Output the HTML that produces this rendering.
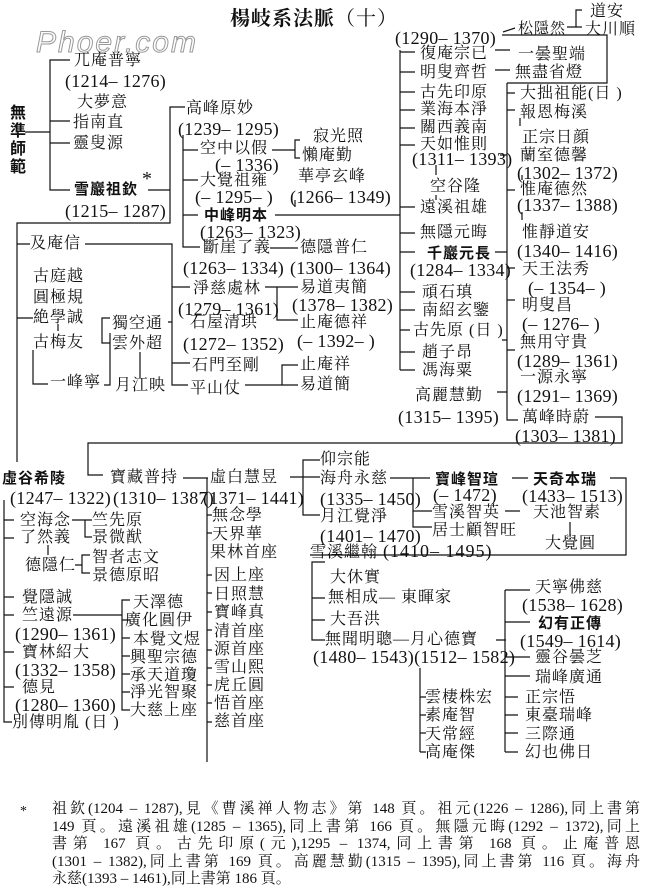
<!DOCTYPE html>
<html><head><meta charset="utf-8"><style>
body{margin:0;background:#fff;}
#c{position:relative;width:650px;height:896px;overflow:hidden;background:#fff;color:#111;font-family:"Liberation Serif","Noto Serif CJK SC",serif;}
#c i{position:absolute;font-style:normal;white-space:nowrap;font-size:16px;line-height:18px;letter-spacing:1px;}
#c i.y{font-size:18px;letter-spacing:0.3px;}
#c i.b{font-family:"Liberation Sans","Noto Sans CJK SC",sans-serif;font-weight:bold;font-size:15px;letter-spacing:1px;}
svg{position:absolute;left:0;top:0;}
.fl{position:absolute;left:52px;width:588px;font-size:15px;line-height:17px;text-align:justify;text-align-last:justify;white-space:nowrap;font-family:"Liberation Serif","Noto Serif CJK SC",serif;}
</style></head><body><div id="c">
<svg width="650" height="896" fill="none" stroke="#111" stroke-width="1.2">
<path d="M70 60H50V190H70M50 121H70M50 143H70M25 132H50"/>
<path d="M148 190H170M185 107H170V223H17V462M17 244H30M85 244H172V385H188M172 287H190M172 322H168M172 363H190M17 318H33"/>
<path d="M58 324V331M33 350V384H48M110 318H102V343H110M110 333V385H104M140 352V378"/>
<path d="M183 135V247H200M183 150H198M183 180H198M183 215H198M272 150H295M300 140H295V158H300M275 215H400M295 200V207M270 248H298"/>
<path d="M265 287H277V320H298M277 287H298M245 385H282M298 365H282V385H298"/>
<path d="M400 50V370M400 52H415M400 72H415M400 92H415M400 110H415M400 128H415M400 145H415M400 207H415M400 233H415M400 252H415M400 292H415M400 310H415M400 330H410M400 352H415M400 370H415M436 165V175M436 195V200"/>
<path d="M507 83V420H518M507 93H515M507 110H515M507 155H500M507 190H515M495 252H507M507 268H515M507 300H515M507 340H502M507 350H515M497 392H507"/>
<path d="M502 35H607V83H507M503 32L515 28M567 27H576M582 10H576V27H582M495 50H510M495 70H510M520 118V126M522 175V180M522 212V220"/>
<path d="M595 417H622V443H88V475H103M183 478H208M207 478V762M207 515H212M207 533H212M207 575H212M207 593H212M207 612H212M207 630H212M207 650H212M207 668H212M207 685H212M207 703H212M207 722H212"/>
<path d="M290 477H320M320 460H303V515H320M390 478H413V527H432M413 511H432M413 478H430M512 478H528M505 511H520M570 522V535M610 478H626V555H310"/>
<path d="M325 562H312V640H325M312 598H325M312 620H325M496 640H506M505 590V752M505 590H530M505 622H530M505 657H530M505 676H530M505 697H518M505 715H518M505 733H518M505 752H518M420 668V752M420 697H426M420 715H426M420 733H426M420 752H426"/>
<path d="M4 500V722H12M4 520H14M4 538H14M4 597H14M4 615H14M4 652H14M4 687H14M72 520H85M92 520H85V537H92M48 545V555M75 565H82M90 555H82V573H90M73 615H122M130 600H122V710H130M122 620H130M122 638H130M122 656H130M122 674H130M122 692H130"/>
</svg>
<div style="position:absolute;left:230px;top:2px;font-size:20px;font-weight:bold;font-family:'Liberation Serif','Noto Serif CJK SC',serif;letter-spacing:1px">楊岐系法脈<span style="font-weight:normal">（十）</span></div>
<div style="position:absolute;left:36px;top:26px;font-size:30px;font-style:italic;color:transparent;-webkit-text-stroke:1px #999;font-family:'Liberation Sans',sans-serif;letter-spacing:2px">Phoer.com</div>
<i style="left:74px;top:52px">兀庵普寧</i><i class="y" style="left:65px;top:72px">(1214– 1276)</i>
<i style="left:77px;top:94px">大夢意</i><i style="left:73px;top:114px">指南直</i><i style="left:73px;top:135px">靈叟源</i>
<div style="position:absolute;left:10px;top:105px;font-family:'Liberation Sans','Noto Sans CJK SC',sans-serif;font-weight:bold;font-size:16px;line-height:18px;width:18px">無準師範</div>
<i class="b" style="left:74px;top:181px">雪巖祖欽</i><i style="left:142px;top:170px;font-size:20px">*</i><i class="y" style="left:65px;top:202px">(1215– 1287)</i>
<i style="left:186px;top:100px">高峰原妙</i><i class="y" style="left:178px;top:120px">(1239– 1295)</i>
<i style="left:200px;top:140px">空中以假</i><i class="y" style="left:215px;top:156px">(– 1336)</i>
<i style="left:313px;top:128px">寂光照</i><i style="left:302px;top:147px">懶庵勤</i>
<i style="left:200px;top:172px">大覺祖雍</i><i class="y" style="left:195px;top:188px">(– 1295– )</i>
<i style="left:298px;top:168px">華亭玄峰</i><i class="y" style="left:290px;top:188px">(1266– 1349)</i>
<i class="b" style="left:204px;top:207px">中峰明本</i><i class="y" style="left:200px;top:223px">(1263– 1323)</i>
<i style="left:203px;top:239px">斷崖了義</i><i class="y" style="left:183px;top:259px">(1263– 1334)</i>
<i style="left:300px;top:239px">德隱普仁</i><i class="y" style="left:290px;top:259px">(1300– 1364)</i>
<i style="left:30px;top:235px">及庵信</i>
<i style="left:33px;top:268px">古庭越</i><i style="left:33px;top:289px">圓極規</i><i style="left:33px;top:309px">絶學誠</i><i style="left:33px;top:334px">古梅友</i>
<i style="left:50px;top:374px">一峰寧</i><i style="left:112px;top:315px">獨空通</i><i style="left:112px;top:335px">雲外超</i><i style="left:115px;top:377px">月江映</i>
<i style="left:193px;top:280px">淨慈處林</i><i class="y" style="left:178px;top:300px">(1279– 1361)</i>
<i style="left:190px;top:314px">石屋清珙</i><i class="y" style="left:183px;top:335px">(1272– 1352)</i>
<i style="left:192px;top:357px">石門至剛</i><i style="left:190px;top:380px">平山仗</i>
<i style="left:300px;top:279px">易道夷簡</i><i class="y" style="left:292px;top:296px">(1378– 1382)</i>
<i style="left:300px;top:314px">止庵德祥</i><i class="y" style="left:297px;top:332px">(– 1392– )</i>
<i style="left:300px;top:356px">止庵祥</i><i style="left:300px;top:376px">易道簡</i>
<i style="left:590px;top:3px">道安</i><i style="left:585px;top:21px">大川順</i><i style="left:518px;top:20px;font-size:15px">松隱然</i>
<i class="y" style="left:395px;top:29px">(1290– 1370)</i>
<i style="left:420px;top:45px">復庵宗已</i><i style="left:420px;top:64px">明叟齊哲</i><i style="left:420px;top:84px">古先印原</i><i style="left:420px;top:101px">業海本淨</i><i style="left:420px;top:119px">關西義南</i><i style="left:420px;top:136px">天如惟則</i><i class="y" style="left:412px;top:150px">(1311– 1393)</i>
<i style="left:430px;top:178px">空谷隆</i><i style="left:420px;top:199px">遠溪祖雄</i><i style="left:420px;top:224px">無隱元晦</i>
<i class="b" style="left:427px;top:245px">千巖元長</i><i class="y" style="left:410px;top:261px">(1284– 1334)</i>
<i style="left:422px;top:284px">頑石瑱</i><i style="left:422px;top:302px">南紹玄鑒</i><i style="left:413px;top:322px">古先原 (日 )</i><i style="left:422px;top:344px">趙子昂</i><i style="left:422px;top:362px">馮海粟</i>
<i style="left:415px;top:387px">高麗慧勤</i><i class="y" style="left:398px;top:408px">(1315– 1395)</i>
<i style="left:518px;top:46px">一曇聖端</i><i style="left:515px;top:64px">無盡省燈</i>
<i style="left:520px;top:85px">大拙祖能(日 )</i><i style="left:520px;top:104px">報恩梅溪</i><i style="left:522px;top:129px">正宗日顔</i><i style="left:520px;top:147px">蘭室德馨</i><i class="y" style="left:517px;top:164px">(1302– 1372)</i>
<i style="left:520px;top:181px">惟庵德然</i><i class="y" style="left:517px;top:196px">(1337– 1388)</i>
<i style="left:522px;top:224px">惟靜道安</i><i class="y" style="left:517px;top:242px">(1340– 1416)</i>
<i style="left:522px;top:261px">天王法秀</i><i class="y" style="left:528px;top:279px">(– 1354– )</i>
<i style="left:522px;top:297px">明叟昌</i><i class="y" style="left:522px;top:315px">(– 1276– )</i>
<i style="left:520px;top:334px">無用守貴</i><i class="y" style="left:517px;top:352px">(1289– 1361)</i>
<i style="left:520px;top:369px">一源永寧</i><i class="y" style="left:517px;top:387px">(1291– 1369)</i>
<i style="left:522px;top:409px">萬峰時蔚</i><i class="y" style="left:515px;top:427px">(1303– 1381)</i>
<i class="b" style="left:2px;top:470px">虛谷希陵</i><i class="y" style="left:10px;top:489px">(1247– 1322)</i>
<i style="left:110px;top:469px">寶藏普持</i><i class="y" style="left:113px;top:489px">(1310– 1387)</i>
<i style="left:210px;top:469px">虛白慧昱</i><i class="y" style="left:203px;top:489px">(1371– 1441)</i>
<i style="left:320px;top:451px">仰宗能</i><i style="left:320px;top:470px">海舟永慈</i><i class="y" style="left:320px;top:490px">(1335– 1450)</i>
<i style="left:320px;top:508px">月江覺淨</i><i class="y" style="left:320px;top:527px">(1401– 1470)</i>
<i style="left:310px;top:542px">雪溪繼翰 <span style="font-size:18px">(1410– 1495)</span></i>
<i class="b" style="left:435px;top:471px">寶峰智瑄</i><i class="y" style="left:433px;top:486px">(– 1472)</i>
<i style="left:432px;top:504px">雪溪智英</i><i style="left:432px;top:522px">居士顧智旺</i>
<i class="b" style="left:533px;top:471px">天奇本瑞</i><i class="y" style="left:522px;top:487px">(1433– 1513)</i>
<i style="left:533px;top:504px">天池智素</i><i style="left:545px;top:535px">大覺圓</i>
<i style="left:330px;top:569px">大休實</i><i style="left:328px;top:589px">無相成— 東暉家</i><i style="left:330px;top:611px">大吾洪</i>
<i style="left:325px;top:631px">無聞明聰—月心德寶</i><i class="y" style="left:313px;top:648px">(1480– 1543)(1512– 1582)</i>
<i style="left:535px;top:579px">天寧佛慈</i><i class="y" style="left:522px;top:596px">(1538– 1628)</i>
<i class="b" style="left:538px;top:615px">幻有正傳</i><i class="y" style="left:520px;top:632px">(1549– 1614)</i>
<i style="left:535px;top:649px">靈谷曇芝</i><i style="left:535px;top:669px">瑞峰廣通</i>
<i style="left:525px;top:689px">正宗悟</i><i style="left:525px;top:707px">東臺瑞峰</i><i style="left:525px;top:726px">三際通</i><i style="left:525px;top:744px">幻也佛日</i>
<i style="left:425px;top:689px">雲棲株宏</i><i style="left:425px;top:707px">素庵智</i><i style="left:425px;top:726px">天常經</i><i style="left:425px;top:744px">高庵傑</i>
<i style="left:20px;top:512px">空海念</i><i style="left:20px;top:529px">了然義</i><i style="left:92px;top:512px">竺先原</i><i style="left:92px;top:529px">景微猷</i>
<i style="left:25px;top:557px">德隱仁</i><i style="left:92px;top:549px">智者志文</i><i style="left:92px;top:567px">景德原昭</i>
<i style="left:22px;top:589px">覺隱誠</i><i style="left:22px;top:607px">竺遠源</i><i class="y" style="left:15px;top:625px">(1290– 1361)</i>
<i style="left:22px;top:644px">寶林紹大</i><i class="y" style="left:15px;top:661px">(1332– 1358)</i>
<i style="left:22px;top:679px">德見</i><i class="y" style="left:15px;top:696px">(1280– 1360)</i><i style="left:12px;top:714px">別傳明胤 (日 )</i>
<i style="left:133px;top:594px">天澤德</i><i style="left:125px;top:612px">廣化圓伊</i><i style="left:133px;top:631px">本覺文煜</i><i style="left:130px;top:649px">興聖宗德</i><i style="left:130px;top:667px">承天道瓊</i><i style="left:130px;top:684px">淨光智聚</i><i style="left:130px;top:702px">大慈上座</i>
<i style="left:212px;top:507px">無念學</i><i style="left:212px;top:526px">天界華</i><i style="left:210px;top:544px">果林首座</i><i style="left:214px;top:567px">因上座</i><i style="left:214px;top:586px">日照慧</i><i style="left:214px;top:604px">寶峰真</i><i style="left:214px;top:623px">清首座</i><i style="left:214px;top:641px">源首座</i><i style="left:214px;top:659px">雪山熙</i><i style="left:214px;top:677px">虎丘圓</i><i style="left:214px;top:695px">悟首座</i><i style="left:214px;top:713px">慈首座</i>
<i style="left:20px;top:803px;font-size:14px">*</i>
<div class="fl" style="top:801px">祖欽(1204 – 1287),見《曹溪禅人物志》第 148 頁。祖元(1226 – 1286),同上書第</div>
<div class="fl" style="top:819px">149 頁。遠溪祖雄(1285 – 1365),同上書第 166 頁。無隱元晦(1292 – 1372),同上</div>
<div class="fl" style="top:836px">書第 167 頁。古先印原(元),1295 – 1374,同上書第 168 頁。止庵普恩</div>
<div class="fl" style="top:854px">(1301 – 1382),同上書第 169 頁。高麗慧勤(1315 – 1395),同上書第 116 頁。海舟</div>
<div class="fl" style="top:871px;text-align-last:left">永慈(1393 – 1461),同上書第 186 頁。</div>
</div></body></html>
